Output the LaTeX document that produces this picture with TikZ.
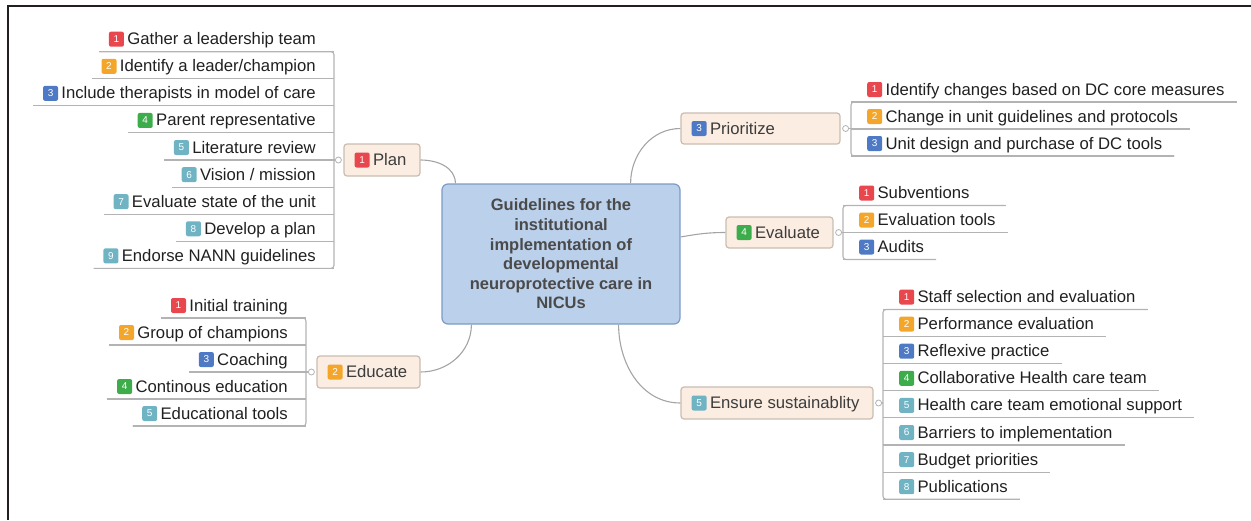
\documentclass[tikz,border=0pt]{standalone}
\usepackage{fontspec}
\setmainfont{Liberation Sans}
\usetikzlibrary{calc,positioning}
\definecolor{MapInk}{HTML}{202020}
\definecolor{MapMuted}{HTML}{3C3C3C}
\definecolor{MapCoreInk}{HTML}{4A4A4A}
\definecolor{MapCore}{HTML}{BBD0EB}
\definecolor{MapCoreLine}{HTML}{7D9BC6}
\definecolor{MapBranch}{HTML}{FBEDE2}
\definecolor{MapBranchLine}{HTML}{C9BCB1}
\definecolor{MapRail}{HTML}{B3B3B3}
\definecolor{MapLink}{HTML}{A4A4A4}
\definecolor{MapFrame}{HTML}{231F20}
\definecolor{Tag1}{HTML}{E8474E}
\definecolor{Tag2}{HTML}{F4A62A}
\definecolor{Tag3}{HTML}{4E79C5}
\definecolor{Tag4}{HTML}{3DAD4B}
\definecolor{Tag5}{HTML}{70B3C3}
\tikzset{
  every node/.style={font=\fontsize{16.7}{20}\selectfont, text=MapInk},
  core/.style={draw=MapCoreLine, line width=1.2pt, fill=MapCore, rounded corners=6pt,
    minimum width=238pt, minimum height=140pt, align=center, text=MapCoreInk,
    font=\bfseries\fontsize{16.5}{19.6}\selectfont},
  branch/.style={draw=MapBranchLine, line width=1.2pt, fill=MapBranch, rounded corners=3pt,
    minimum height=32pt, inner sep=0pt},
  leaf/.style={inner sep=0pt, text height=14pt, text depth=3pt},
  tag/.style={fill=#1, rounded corners=2pt, minimum size=15pt, inner sep=0pt,
    text=white, font=\fontsize{10}{10}\selectfont},
  rail/.style={draw=MapRail, line width=1.1pt},
  link/.style={draw=MapLink, line width=1.1pt},
  knob/.style={circle, draw=MapRail, fill=white, line width=0.8pt, minimum size=6pt, inner sep=0pt},
}

\begin{document}
\begin{tikzpicture}[x=1pt,y=-1pt]
  \useasboundingbox (0,0) rectangle (1251,520);
  \draw[MapFrame, line width=2.6pt] (8,520) -- (8,6) -- (1251,6);

  \node[core] (core) at (561,254) {Guidelines for the\\institutional\\implementation of\\developmental\\neuroprotective care in\\NICUs};

  % main branches
  \node[branch, minimum width=76pt] (plan) at (382,160) {};
  \node[branch, minimum width=103pt] (educate) at (368.5,372) {};
  \node[branch, minimum width=159pt, minimum height=31pt] (prior) at (760.5,128.5) {};
  \node[branch, minimum width=107pt, minimum height=31pt] (eval) at (779.5,232.5) {};
  \node[branch, minimum width=192pt] (sustain) at (777,403) {};
  \foreach \b/\t [count=\k] in {plan/Plan, educate/Educate, prior/Prioritize, eval/Evaluate, sustain/Ensure sustainablity}{
    \node[tag=Tag\k, right=11pt of \b.west] (\b-tag) {\k};
    \node[leaf, text=MapMuted, right=3pt of \b-tag] (\b-text) {\t};
  }

  \draw[link] (plan.east) to[out=0, in=90] ($(core.north west)+(14,0)$);
  \draw[link] (educate.east) to[out=0, in=-90] ($(core.south west)+(30,0)$);
  \draw[link] (prior.west) to[out=180, in=90] ($(core.north east)+(-50,0)$);
  \draw[link] (eval.west) to[out=180, in=10] ($(core.east)+(0,-17)$);
  \draw[link] (sustain.west) to[out=180, in=-90] ($(core.south east)+(-62,0)$);

  % plan
  \foreach \c/\t [count=\i] in {Tag1/Gather a leadership team, Tag2/{Identify a leader/champion},
      Tag3/Include therapists in model of care, Tag4/Parent representative, Tag5/Literature review,
      Tag5/{Vision / mission}, Tag5/Evaluate state of the unit, Tag5/Develop a plan, Tag5/Endorse NANN guidelines}{
    \pgfmathsetmacro\y{51.7+27.08*(\i-1)}
    \coordinate (plan-u\i) at (334,\y);
    \node[leaf, anchor=base east] (plan-\i) at (316,\y-7) {\t};
    \node[tag=\c, left=3pt of plan-\i] (plan-tag\i) {\i};
    \draw[rail] (plan-u\i) -- ($(plan-tag\i.west |- plan-u\i)+(-9.5,0)$);
  }
  \draw[rail, rounded corners=3pt] ($(plan-tag1.west |- plan-u1)+(-9.5,0)$) -- (plan-u1) -- (plan-u9) -- ($(plan-tag9.west |- plan-u9)+(-9.5,0)$);
  \node[knob] (plan-knob) at ($(plan.west)+(-5,0)$) {};
  \draw[rail] (plan-knob) -- (plan-knob -| plan-u1);

  % educate
  \foreach \c/\t [count=\i] in {Tag1/Initial training, Tag2/Group of champions, Tag3/Coaching,
      Tag4/Continous education, Tag5/Educational tools}{
    \pgfmathsetmacro\y{318+27*(\i-1)}
    \coordinate (educate-u\i) at (306,\y);
    \node[leaf, anchor=base east] (educate-\i) at (288,\y-7) {\t};
    \node[tag=\c, left=3pt of educate-\i] (educate-tag\i) {\i};
    \draw[rail] (educate-u\i) -- ($(educate-tag\i.west |- educate-u\i)+(-9.5,0)$);
  }
  \draw[rail, rounded corners=3pt] ($(educate-tag1.west |- educate-u1)+(-9.5,0)$) -- (educate-u1) -- (educate-u5) -- ($(educate-tag5.west |- educate-u5)+(-9.5,0)$);
  \node[knob] (educate-knob) at ($(educate.west)+(-5,0)$) {};
  \draw[rail] (educate-knob) -- (educate-knob -| educate-u1);

  % prioritize
  \foreach \c/\t [count=\i] in {Tag1/Identify changes based on DC core measures,
      Tag2/Change in unit guidelines and protocols, Tag3/Unit design and purchase of DC tools}{
    \pgfmathsetmacro\y{102+27*(\i-1)}
    \coordinate (prior-u\i) at (851,\y);
    \node[tag=\c, anchor=west] (prior-tag\i) at (867,\y-12.5) {\i};
    \node[leaf, right=3pt of prior-tag\i] (prior-\i) {\t};
    \draw[rail] (prior-u\i) -- ($(prior-\i.east |- prior-u\i)+(12,0)$);
  }
  \draw[rail, rounded corners=3pt] ($(prior-1.east |- prior-u1)+(12,0)$) -- (prior-u1) -- (prior-u3) -- ($(prior-3.east |- prior-u3)+(12,0)$);
  \node[knob] (prior-knob) at ($(prior.east)+(5,0)$) {};
  \draw[rail] (prior-knob) -- (prior-knob -| prior-u1);

  % evaluate
  \foreach \c/\t/\e [count=\i] in {Tag1/Subventions/36, Tag2/Evaluation tools/12, Tag3/Audits/12}{
    \pgfmathsetmacro\y{205.5+27*(\i-1)}
    \coordinate (eval-u\i) at (843,\y);
    \node[tag=\c, anchor=west] (eval-tag\i) at (859,\y-12.5) {\i};
    \node[leaf, right=3pt of eval-tag\i] (eval-\i) {\t};
    \draw[rail] (eval-u\i) -- ($(eval-\i.east |- eval-u\i)+(\e,0)$);
  }
  \draw[rail, rounded corners=3pt] ($(eval-1.east |- eval-u1)+(36,0)$) -- (eval-u1) -- (eval-u3) -- ($(eval-3.east |- eval-u3)+(12,0)$);
  \node[knob] (eval-knob) at ($(eval.east)+(5,0)$) {};
  \draw[rail] (eval-knob) -- (eval-knob -| eval-u1);

  % ensure sustainablity
  \foreach \c/\t [count=\i] in {Tag1/Staff selection and evaluation, Tag2/Performance evaluation,
      Tag3/Reflexive practice, Tag4/Collaborative Health care team, Tag5/Health care team emotional support,
      Tag5/Barriers to implementation, Tag5/Budget priorities, Tag5/Publications}{
    \pgfmathsetmacro\y{309.5+27.1*(\i-1)}
    \coordinate (sustain-u\i) at (883,\y);
    \node[tag=\c, anchor=west] (sustain-tag\i) at (899,\y-12.5) {\i};
    \node[leaf, right=3pt of sustain-tag\i] (sustain-\i) {\t};
    \draw[rail] (sustain-u\i) -- ($(sustain-\i.east |- sustain-u\i)+(12,0)$);
  }
  \draw[rail, rounded corners=3pt] ($(sustain-1.east |- sustain-u1)+(12,0)$) -- (sustain-u1) -- (sustain-u8) -- ($(sustain-8.east |- sustain-u8)+(12,0)$);
  \node[knob] (sustain-knob) at ($(sustain.east)+(5,0)$) {};
  \draw[rail] (sustain-knob) -- (sustain-knob -| sustain-u1);
\end{tikzpicture}
\end{document}
